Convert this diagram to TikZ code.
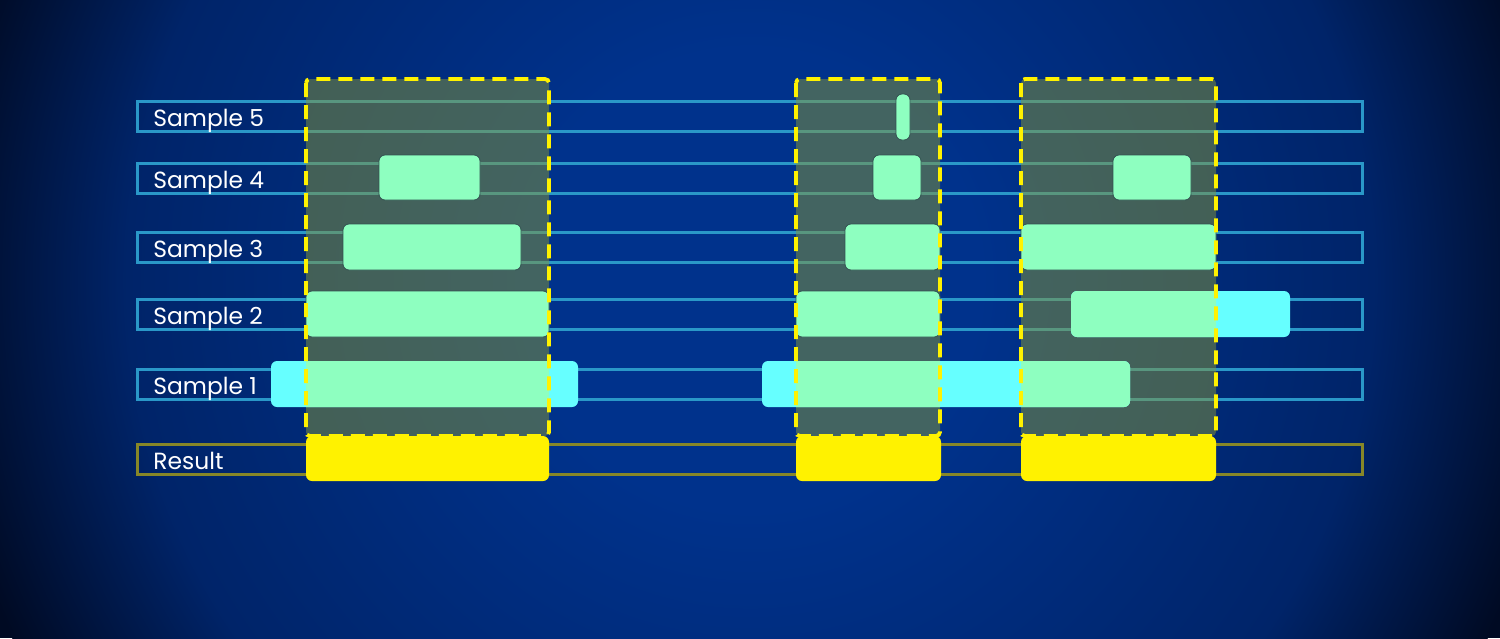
\documentclass[tikz,border=0pt]{standalone}
\usepackage{fontspec}
\setmainfont{Poppins}
\definecolor{bgin}{RGB}{0,50,140}
\definecolor{bgmid}{RGB}{0,36,105}
\definecolor{bgout}{RGB}{0,10,35}
\definecolor{trackc}{RGB}{42,152,200}
\definecolor{resc}{RGB}{135,135,40}
\definecolor{mint}{RGB}{142,255,192}
\definecolor{cyanbar}{RGB}{102,255,255}
\definecolor{winfill}{RGB}{135,150,55}
\definecolor{barline}{RGB}{50,80,80}
\pgfdeclareradialshading{bgshade}{\pgfpoint{0bp}{0bp}}{color(0bp)=(bgin); color(7bp)=(bgin); color(19bp)=(bgmid); color(25bp)=(bgout); color(50bp)=(bgout)}
\tikzset{
  track/.style={draw=trackc, line width=1.5pt},
  restrack/.style={draw=resc, line width=1.5pt},
  lab/.style={anchor=base west, text=white, inner sep=0pt, font=\fontsize{11.7}{14}\selectfont},
  winbg/.style={fill=winfill, fill opacity=0.5, rounded corners=2pt},
  winline/.style={draw=yellow, line width=1.9pt, dash pattern=on 7pt off 4pt, rounded corners=2pt},
  cbar/.style={fill=cyanbar, rounded corners=3pt},
  gbar/.style={fill=mint, draw=barline, line width=0.4pt, rounded corners=3pt},
  gfill/.style={fill=mint, rounded corners=3pt},
  ybar/.style={fill=yellow, rounded corners=3pt},
}
\begin{document}
\begin{tikzpicture}[x=0.5pt,y=-0.5pt]
\useasboundingbox (0,0) rectangle (1500,638);
\begin{scope}
  \clip (0,0) rectangle (1500,638);
  \fill[bgout] (0,0) rectangle (1500,638);
  \shade[shading=bgshade] (750,280) circle [radius=820];
\end{scope}
% tracks
\foreach \n/\yc in {5/116,4/178,3/247,2/314,1/384}{
  \draw[track] (137,\yc-15) rectangle (1362,\yc+15);
}
\draw[restrack] (137,444) rectangle (1362,474);
% window backgrounds
\fill[winbg] (306,79) rectangle (549,436);
\fill[winbg] (796,79) rectangle (940,436);
\fill[winbg] (1021,79) rectangle (1216,436);
% cyan bars
\fill[cbar] (271,361) rectangle (578,407);
\fill[cbar] (762,361) rectangle (1130,407);
\fill[cbar] (1071,291) rectangle (1290,337);
% green inside windows
\begin{scope}
  \clip (306,79) rectangle (549,436) (796,79) rectangle (940,436) (1021,79) rectangle (1216,436);
  \fill[gfill] (271,361) rectangle (578,407);
  \fill[gfill] (762,361) rectangle (1130,407);
  \fill[gfill] (1071,291) rectangle (1290,337);
\end{scope}
% green bars
\path[gbar] (379,155) rectangle (480,200);
\path[gbar] (343,224) rectangle (521,270);
\path[gbar] (306,291) rectangle (549,337);
\path[gbar] (896,94) rectangle (910,140);
\path[gbar] (873,155) rectangle (921,200);
\path[gbar] (845,224) rectangle (940,270);
\path[gbar] (796,291) rectangle (940,337);
\path[gbar] (1113,155) rectangle (1191,200);
\path[gbar] (1021,224) rectangle (1216,270);
% result bars
\fill[ybar] (306,436) rectangle (549,481);
\fill[ybar] (796,436) rectangle (941,481);
\fill[ybar] (1021,436) rectangle (1216,481);
% window outlines
\draw[winline] (306,79) rectangle (549,436);
\draw[winline] (796,79) rectangle (940,436);
\draw[winline] (1021,79) rectangle (1216,436);
% labels
\foreach \n/\yc in {5/116,4/178,3/247,2/314,1/384}{
  \node[lab] (s\n) at (153,\yc+10) {Sample \n};
}
\node[lab] (res) at (153,469) {Result};
\end{tikzpicture}
\end{document}
